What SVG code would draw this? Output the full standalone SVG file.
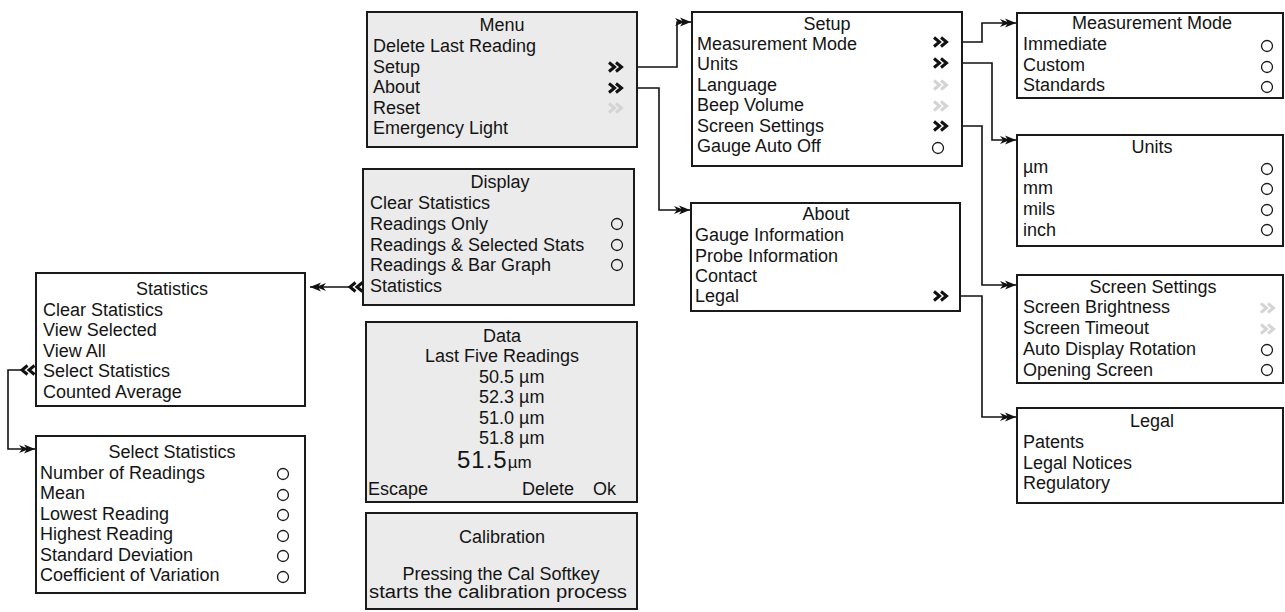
<svg xmlns="http://www.w3.org/2000/svg" xmlns:xlink="http://www.w3.org/1999/xlink" width="1285" height="612" viewBox="0 0 1285 612">
<style>
text{font-family:"Liberation Sans",Arial,sans-serif;font-size:18px;fill:#141414}
.t{text-anchor:middle}
.bg{fill:#ebebeb;stroke:#1a1a1a;stroke-width:2}
.bw{fill:#fff;stroke:#1a1a1a;stroke-width:2}
.c{fill:none;stroke:#1a1a1a;stroke-width:1.3}
.on{stroke:#111}
.off{stroke:#d4d4d4}
.ln{fill:none;stroke:#111;stroke-width:1.6;marker-end:url(#arr)}
</style>
<defs>
<marker id="arr" markerWidth="18" markerHeight="12" refX="17" refY="6" orient="auto" markerUnits="userSpaceOnUse">
<path d="M17,6 L6,1.5 L9,6 L6,10.5 Z M11,6 L1,2 L4,6 L1,10 Z" fill="#111"/>
</marker>
<path id="chr" d="M0,-4.5 L5.5,0 L0,4.5 M7,-4.5 L12.5,0 L7,4.5" fill="none" stroke-width="3"/>
<path id="chl" d="M12.5,-4.5 L7,0 L12.5,4.5 M5.5,-4.5 L0,0 L5.5,4.5" fill="none" stroke-width="3"/>
</defs>
<rect width="1285" height="612" fill="#fff"/>

<g id="connectors">
<path class="ln" d="M623,67 H677 V22 H691"/>
<path class="ln" d="M623,88 H659 V210 H690"/>
<path class="ln" d="M947,42 H982 V23 H1016"/>
<path class="ln" d="M947,63 H992 V140 H1016"/>
<path class="ln" d="M947,126 H982 V285 H1016"/>
<path class="ln" d="M947,296 H982 V417 H1016"/>
<path class="ln" d="M350,287 H310"/>
<path class="ln" d="M22,370 H8 V449 H35"/>
</g>

<g id="menu">
<rect class="bg" x="367" y="12" width="270" height="135"/>
<text class="t" x="502" y="31">Menu</text>
<text x="373" y="52">Delete Last Reading</text>
<text x="373" y="73">Setup</text>
<text x="373" y="93">About</text>
<text x="373" y="114">Reset</text>
<text x="373" y="134">Emergency Light</text>
<use href="#chr" x="609" y="67" class="on"/>
<use href="#chr" x="609" y="88" class="on"/>
<use href="#chr" x="609" y="108" class="off"/>
</g>

<g id="setup">
<rect class="bw" x="692" y="12" width="270" height="154"/>
<text class="t" x="827" y="30">Setup</text>
<text x="697" y="50">Measurement Mode</text>
<text x="697" y="70">Units</text>
<text x="697" y="91">Language</text>
<text x="697" y="111">Beep Volume</text>
<text x="697" y="132">Screen Settings</text>
<text x="697" y="152">Gauge Auto Off</text>
<use href="#chr" x="934" y="42" class="on"/>
<use href="#chr" x="934" y="63" class="on"/>
<use href="#chr" x="934" y="85" class="off"/>
<use href="#chr" x="934" y="106" class="off"/>
<use href="#chr" x="934" y="126" class="on"/>
<circle class="c" cx="938" cy="148" r="5.5"/>
</g>

<g id="measurement-mode">
<rect class="bw" x="1017" y="13" width="266" height="85"/>
<text class="t" x="1152" y="29">Measurement Mode</text>
<text x="1023" y="50">Immediate</text>
<text x="1023" y="71">Custom</text>
<text x="1023" y="91">Standards</text>
<circle class="c" cx="1267" cy="46" r="5.5"/>
<circle class="c" cx="1267" cy="67" r="5.5"/>
<circle class="c" cx="1267" cy="87" r="5.5"/>
</g>

<g id="units">
<rect class="bw" x="1017" y="135" width="266" height="111"/>
<text class="t" x="1152" y="153">Units</text>
<text x="1023" y="173">µm</text>
<text x="1023" y="194">mm</text>
<text x="1023" y="215">mils</text>
<text x="1023" y="236">inch</text>
<circle class="c" cx="1267" cy="169" r="5.5"/>
<circle class="c" cx="1267" cy="189" r="5.5"/>
<circle class="c" cx="1267" cy="210" r="5.5"/>
<circle class="c" cx="1267" cy="230" r="5.5"/>
</g>

<g id="about">
<rect class="bw" x="691" y="203" width="269" height="108"/>
<text class="t" x="826" y="220">About</text>
<text x="695" y="241">Gauge Information</text>
<text x="695" y="262">Probe Information</text>
<text x="695" y="282">Contact</text>
<text x="695" y="302">Legal</text>
<use href="#chr" x="934" y="296" class="on"/>
</g>

<g id="screen-settings">
<rect class="bw" x="1017" y="275" width="266" height="108"/>
<text class="t" x="1153" y="293">Screen Settings</text>
<text x="1023" y="313">Screen Brightness</text>
<text x="1023" y="334">Screen Timeout</text>
<text x="1023" y="355">Auto Display Rotation</text>
<text x="1023" y="376">Opening Screen</text>
<use href="#chr" x="1261" y="308" class="off"/>
<use href="#chr" x="1261" y="329" class="off"/>
<circle class="c" cx="1267" cy="350" r="5.5"/>
<circle class="c" cx="1267" cy="370" r="5.5"/>
</g>

<g id="legal">
<rect class="bw" x="1017" y="408" width="266" height="95"/>
<text class="t" x="1152" y="427">Legal</text>
<text x="1023" y="448">Patents</text>
<text x="1023" y="469">Legal Notices</text>
<text x="1023" y="489">Regulatory</text>
</g>

<g id="display">
<rect class="bg" x="363" y="169" width="271" height="136"/>
<text class="t" x="500" y="188">Display</text>
<text x="370" y="209">Clear Statistics</text>
<text x="370" y="230">Readings Only</text>
<text x="370" y="251">Readings &amp; Selected Stats</text>
<text x="370" y="271">Readings &amp; Bar Graph</text>
<text x="370" y="292">Statistics</text>
<circle class="c" cx="617" cy="224" r="5.5"/>
<circle class="c" cx="617" cy="245" r="5.5"/>
<circle class="c" cx="617" cy="265" r="5.5"/>
<use href="#chl" x="350" y="287" class="on"/>
</g>

<g id="statistics">
<rect class="bw" x="36" y="273" width="269" height="133"/>
<text class="t" x="172" y="295">Statistics</text>
<text x="43" y="316">Clear Statistics</text>
<text x="43" y="336">View Selected</text>
<text x="43" y="357">View All</text>
<text x="43" y="377">Select Statistics</text>
<text x="43" y="398">Counted Average</text>
<use href="#chl" x="22" y="370" class="on"/>
</g>

<g id="select-statistics">
<rect class="bw" x="36" y="436" width="269" height="157"/>
<text class="t" x="172" y="458">Select Statistics</text>
<text x="40" y="479">Number of Readings</text>
<text x="40" y="499">Mean</text>
<text x="40" y="520">Lowest Reading</text>
<text x="40" y="540">Highest Reading</text>
<text x="40" y="561">Standard Deviation</text>
<text x="40" y="581">Coefficient of Variation</text>
<circle class="c" cx="283" cy="474" r="5.5"/>
<circle class="c" cx="283" cy="495" r="5.5"/>
<circle class="c" cx="283" cy="515" r="5.5"/>
<circle class="c" cx="283" cy="536" r="5.5"/>
<circle class="c" cx="283" cy="556" r="5.5"/>
<circle class="c" cx="283" cy="577" r="5.5"/>
</g>

<g id="data">
<rect class="bg" x="366" y="322" width="271" height="180"/>
<text class="t" x="502" y="342">Data</text>
<text class="t" x="502" y="362">Last Five Readings</text>
<text x="479" y="383">50.5 µm</text>
<text x="479" y="403">52.3 µm</text>
<text x="479" y="424">51.0 µm</text>
<text x="479" y="444">51.8 µm</text>
<text x="457" y="468" style="font-size:24px;letter-spacing:1px">51.5<tspan style="font-size:17px;letter-spacing:0">µm</tspan></text>
<text x="368" y="495">Escape</text>
<text x="522" y="495">Delete</text>
<text x="593" y="495">Ok</text>
</g>

<g id="calibration">
<rect class="bg" x="366" y="513" width="271" height="96"/>
<text class="t" x="502" y="543">Calibration</text>
<text class="t" x="501" y="580">Pressing the Cal Softkey</text>
<text class="t" x="498" y="598" textLength="258" lengthAdjust="spacingAndGlyphs">starts the calibration process</text>
</g>
</svg>
